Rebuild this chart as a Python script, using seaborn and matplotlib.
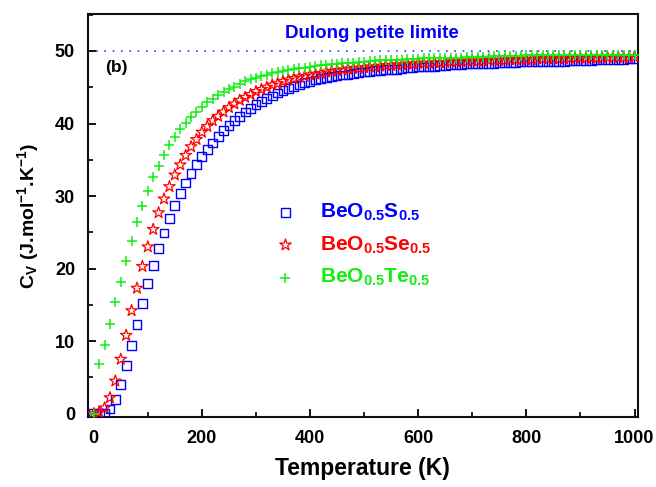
import numpy as np
import pandas as pd
import matplotlib
matplotlib.use("Agg")
import matplotlib.pyplot as plt
import seaborn as sns
from matplotlib.ticker import MultipleLocator

temperature = list(range(0, 1001, 10))

cv_s = [0.0, 0.0, 0.05, 0.66, 1.96, 4.0, 6.6, 9.4, 12.3, 15.2,
        17.9, 20.4, 22.8, 24.9, 26.9, 28.7, 30.3, 31.8, 33.1, 34.3,
        35.4, 36.4, 37.3, 38.2, 39.0, 39.7, 40.4, 41.0, 41.6, 42.1,
        42.6, 43.0, 43.4, 43.8, 44.2, 44.5, 44.8, 45.1, 45.3, 45.6,
        45.8, 46.0, 46.2, 46.3, 46.5, 46.6, 46.7, 46.8, 46.9, 47.0,
        47.1, 47.2, 47.3, 47.3, 47.4, 47.5, 47.5, 47.6, 47.7, 47.7,
        47.8, 47.8, 47.9, 47.9, 48.0, 48.0, 48.1, 48.1, 48.1, 48.2,
        48.2, 48.2, 48.3, 48.3, 48.3, 48.4, 48.4, 48.4, 48.4, 48.5,
        48.5, 48.5, 48.5, 48.6, 48.6, 48.6, 48.6, 48.6, 48.7, 48.7,
        48.7, 48.7, 48.7, 48.8, 48.8, 48.8, 48.8, 48.8, 48.8, 48.9,
        48.9]

cv_se = [0.0, 0.2, 0.8, 2.2, 4.5, 7.5, 10.8, 14.2, 17.3, 20.3,
         23.0, 25.4, 27.7, 29.6, 31.3, 32.9, 34.3, 35.6, 36.8, 37.8,
         38.8, 39.6, 40.4, 41.0, 41.6, 42.2, 42.7, 43.2, 43.6, 44.0,
         44.4, 44.7, 45.0, 45.3, 45.5, 45.8, 46.0, 46.2, 46.4, 46.5,
         46.7, 46.8, 46.9, 47.1, 47.2, 47.3, 47.4, 47.5, 47.6, 47.6,
         47.7, 47.8, 47.8, 47.9, 48.0, 48.0, 48.1, 48.1, 48.2, 48.2,
         48.3, 48.3, 48.3, 48.4, 48.4, 48.4, 48.5, 48.5, 48.5, 48.6,
         48.6, 48.6, 48.6, 48.7, 48.7, 48.7, 48.7, 48.8, 48.8, 48.8,
         48.8, 48.8, 48.9, 48.9, 48.9, 48.9, 48.9, 48.9, 49.0, 49.0,
         49.0, 49.0, 49.0, 49.0, 49.1, 49.1, 49.1, 49.1, 49.1, 49.1,
         49.2]

cv_te = [0.0, 6.8, 9.4, 12.4, 15.4, 18.2, 21.1, 23.8, 26.4, 28.6,
         30.7, 32.6, 34.2, 35.7, 37.0, 38.2, 39.2, 40.1, 40.9, 41.6,
         42.3, 42.9, 43.4, 43.9, 44.4, 44.8, 45.1, 45.5, 45.8, 46.1,
         46.3, 46.5, 46.7, 46.9, 47.1, 47.2, 47.4, 47.5, 47.6, 47.7,
         47.8, 47.9, 48.0, 48.1, 48.2, 48.2, 48.3, 48.4, 48.4, 48.5,
         48.5, 48.6, 48.6, 48.7, 48.7, 48.8, 48.8, 48.8, 48.9, 48.9,
         48.9, 49.0, 49.0, 49.0, 49.0, 49.1, 49.1, 49.1, 49.1, 49.2,
         49.2, 49.2, 49.2, 49.2, 49.3, 49.3, 49.3, 49.3, 49.3, 49.3,
         49.4, 49.4, 49.4, 49.4, 49.4, 49.4, 49.4, 49.4, 49.4, 49.4,
         49.4, 49.5, 49.5, 49.5, 49.5, 49.5, 49.5, 49.5, 49.5, 49.5,
         49.5]

labels = [r"BeO$_{0.5}$S$_{0.5}$", r"BeO$_{0.5}$Se$_{0.5}$", r"BeO$_{0.5}$Te$_{0.5}$"]
colors = ["#0000ff", "#ff0000", "#11ee11"]
dulong_value = 50.0
dulong_text = "Dulong petite limite"
panel_text = "(b)"
x_ticks = [0, 200, 400, 600, 800, 1000]
y_ticks = [0, 10, 20, 30, 40, 50]

sns.set_style("ticks")
plt.rcParams["font.family"] = ["Liberation Sans", "DejaVu Sans"]
plt.rcParams["font.weight"] = "bold"
plt.rcParams["text.color"] = "black"
plt.rcParams["axes.labelcolor"] = "black"
plt.rcParams["xtick.color"] = "black"
plt.rcParams["ytick.color"] = "black"
plt.rcParams["mathtext.fontset"] = "custom"
plt.rcParams["mathtext.bf"] = "Liberation Sans:bold"
plt.rcParams["mathtext.rm"] = "Liberation Sans:bold"
plt.rcParams["mathtext.it"] = "Liberation Sans:bold"
plt.rcParams["mathtext.default"] = "bf"

fig = plt.figure(figsize=(6.56, 4.87), dpi=100)
ax = fig.add_axes([0.1334, 0.1431, 0.9718 - 0.1334, 0.9713 - 0.1431])

df = pd.DataFrame({"T": temperature, "S": cv_s, "Se": cv_se, "Te": cv_te})

sns.scatterplot(data=df, x="T", y="S", ax=ax, marker="s", s=40,
                facecolor="none", edgecolor=colors[0], linewidth=1.0,
                label=labels[0], zorder=3)
sns.scatterplot(data=df, x="T", y="Se", ax=ax, marker="*", s=75,
                facecolor="none", edgecolor=colors[1], linewidth=0.9,
                label=labels[1], zorder=4)
sns.scatterplot(data=df, x="T", y="Te", ax=ax, marker="+", s=45,
                color=colors[2], linewidth=1.1, label=labels[2], zorder=5)

sns.lineplot(x=[5, 1010], y=[dulong_value, dulong_value], ax=ax, color="#3333ff",
             linewidth=1.2, dashes=False, zorder=2, legend=False)
ax.lines[-1].set_dashes((1, 4))

ax.text(515, 52.4, dulong_text, color="#0000ff", fontsize=13.5,
        fontweight="bold", ha="center", va="center")
ax.text(21, 47.7, panel_text, color="black", fontsize=12.5,
        fontweight="bold", ha="left", va="center")

ax.set_xlim(-11.5, 1005.5)
ax.set_ylim(-0.5, 55.1)
ax.set_xticks(x_ticks)
ax.set_yticks(y_ticks)
ax.xaxis.set_minor_locator(MultipleLocator(100))
ax.yaxis.set_minor_locator(MultipleLocator(5))
ax.tick_params(which="major", direction="in", length=6, width=1.3,
               labelsize=13, labelcolor="black", color="black")
ax.tick_params(axis="y", which="major", pad=9)
ax.tick_params(axis="x", which="major", pad=9)
ax.tick_params(which="minor", direction="in", length=3.5, width=1.2, color="black")
for lab in ax.get_xticklabels() + ax.get_yticklabels():
    lab.set_fontweight("bold")
for sp in ax.spines.values():
    sp.set_visible(True)
    sp.set_linewidth(1.5)
    sp.set_color("#111111")

ax.set_xlabel("Temperature (K)", fontsize=16.5, fontweight="bold", labelpad=7,
              color="black")
ax.set_ylabel(r"C$_{V}$ (J.mol$^{-1}$.K$^{-1}$)", fontsize=14,
              fontweight="bold", labelpad=10, color="black")

leg = ax.legend(loc="center left", bbox_to_anchor=(0.288, 0.427), frameon=False,
                fontsize=15, handletextpad=0.65, labelspacing=0.55,
                borderpad=0.4, handlelength=2.0)
for txt, c in zip(leg.get_texts(), colors):
    txt.set_color(c)
    txt.set_fontweight("bold")

fig.savefig("out.png", dpi=100)
